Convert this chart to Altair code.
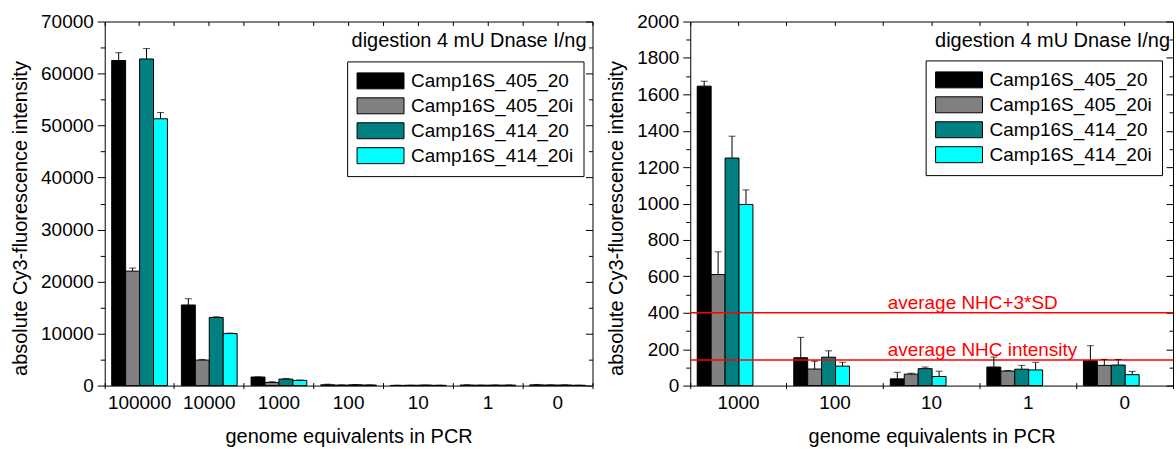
import altair as alt
import pandas as pd

FONT = "Liberation Sans"

# probes and their bar colours
series = ["Camp16S_405_20", "Camp16S_405_20i", "Camp16S_414_20", "Camp16S_414_20i"]
colors = ["#000000", "#808080", "#008080", "#00FFFF"]

# genome equivalents per PCR
doses_all = ["100000", "10000", "1000", "100", "10", "1", "0"]
doses_low = ["1000", "100", "10", "1", "0"]

# mean absolute Cy3 intensity per dose (order of doses_all)
mean_405_20 = [62500, 15500, 1645, 153, 37, 102, 137]
mean_405_20i = [22000, 4900, 610, 91, 63, 80, 111]
mean_414_20 = [62800, 13100, 1250, 156, 93, 90, 113]
mean_414_20i = [51300, 10000, 995, 107, 50, 86, 60]

# standard deviations (upper error bars)
sd_405_20 = [1500, 1200, 27, 112, 36, 55, 82]
sd_405_20i = [600, 130, 125, 43, 5, 3, 33]
sd_414_20 = [2000, 120, 120, 35, 9, 21, 31]
sd_414_20i = [1200, 100, 80, 21, 29, 42, 18]

# negative hybridisation control levels
threshold_values = [400, 140]
threshold_labels = ["average NHC+3*SD", "average NHC intensity"]

note_text = "digestion 4 mU Dnase I/ng"
x_title = "genome equivalents in PCR"
y_title = "absolute Cy3-fluorescence intensity"

means = [mean_405_20, mean_405_20i, mean_414_20, mean_414_20i]
sds = [sd_405_20, sd_405_20i, sd_414_20, sd_414_20i]
rows = []
for s, m, e in zip(series, means, sds):
    for d, v, sd in zip(doses_all, m, e):
        rows.append({"dose": d, "series": s, "value": v, "sd": sd, "upper": v + sd})
df = pd.DataFrame(rows)


def panel(doses, ymax, step, width, height, legend_x, legend_y, note_inset, thresholds):
    data = df[df["dose"].isin(doses)]
    x_scale = alt.Scale(domain=doses, paddingInner=0, paddingOuter=0)
    off_scale = alt.Scale(domain=series, paddingInner=0, paddingOuter=0.5)
    y_scale = alt.Scale(domain=[0, ymax], nice=False, zero=True)
    all_ticks = list(range(0, ymax + 1, step // 2))
    major_ticks = list(range(0, ymax + 1, step))
    minor_ticks = [t for t in all_ticks if t % step != 0]
    xo = alt.XOffset("series:N", scale=off_scale)
    base = alt.Chart(data)

    bars = base.mark_bar(stroke="black", strokeWidth=1).encode(
        x=alt.X(
            "dose:N", scale=x_scale,
            axis=alt.Axis(
                orient="bottom", title=x_title, bandPosition=1, tickExtra=True,
                tickSize=6, offset=-3, labelAngle=0, labelPadding=5,
                labelFontSize=19, titleFontSize=20, titlePadding=14,
                domain=False, grid=False,
            ),
        ),
        xOffset=xo,
        y=alt.Y(
            "value:Q", scale=y_scale,
            axis=alt.Axis(
                orient="left", title=y_title, values=all_ticks,
                tickSize={"condition": {"test": f"datum.value % {step} === 0", "value": 7.5}, "value": 4.5},
                labelExpr=f"datum.value % {step} === 0 ? datum.label : ''",
                format="d", labelPadding=4, labelFontSize=19,
                titleFontSize=20, titlePadding=10, titleY=197,
                domain=False, grid=False,
            ),
        ),
        color=alt.Color(
            "series:N",
            scale=alt.Scale(domain=series, range=colors),
            legend=alt.Legend(
                title=None, orient="none", legendX=legend_x, legendY=legend_y,
                direction="vertical",
                symbolType="M-2.94,-1H2.94V1H-2.94Z", symbolSize=256,
                symbolStrokeColor="black", symbolStrokeWidth=1,
                symbolOffset=14, labelOffset=21, labelFontSize=19,
                labelColor="black", labelLimit=400, rowPadding=4,
                padding=10, strokeColor="black", fillColor="white",
                cornerRadius=0,
            ),
        ),
    )

    err = base.mark_rule(color="black", strokeWidth=1).encode(
        x=alt.X(
            "dose:N", scale=x_scale,
            axis=alt.Axis(
                orient="top", title=None, labels=False, bandPosition=1,
                tickExtra=True, tickSize=4, offset=-4, domain=False, grid=False,
            ),
        ),
        xOffset=xo,
        y=alt.Y(
            "value:Q", scale=y_scale,
            axis=alt.Axis(
                orient="right", title=None, labels=False, values=major_ticks,
                tickSize=7, offset=-7, domain=False, grid=False,
            ),
        ),
        y2="upper:Q",
    )

    caps = base.mark_tick(color="black", size=7, thickness=1).encode(
        x=alt.X(
            "dose:N", scale=x_scale,
            axis=alt.Axis(
                orient="top", title=None, labels=False, tickSize=4,
                offset=-4, domain=False, grid=False,
            ),
        ),
        xOffset=xo,
        y=alt.Y(
            "upper:Q", scale=y_scale,
            axis=alt.Axis(
                orient="right", title=None, labels=False, values=minor_ticks,
                tickSize=4, offset=-4, domain=False, grid=False,
            ),
        ),
    )

    layers = [bars]
    if thresholds:
        thr = pd.DataFrame({"value": threshold_values, "label": threshold_labels})
        lines = alt.Chart(thr).mark_rule(color="#FF0000", strokeWidth=1.5).encode(
            y=alt.Y("value:Q", scale=y_scale, axis=None)
        )
        texts = alt.Chart(thr).mark_text(
            align="left", baseline="alphabetic", dy=-4, fontSize=19, color="#FF0000"
        ).encode(
            x=alt.value(198),
            y=alt.Y("value:Q", scale=y_scale, axis=None),
            text="label:N",
        )
        layers += [lines, err, caps, texts]
    else:
        layers += [err, caps]

    note = alt.Chart(pd.DataFrame({"note": [note_text]})).mark_text(
        align="right", baseline="alphabetic", fontSize=20, color="black"
    ).encode(text="note:N", x=alt.value(width - note_inset), y=alt.value(26))
    layers.append(note)

    return alt.layer(*layers).resolve_axis(x="independent", y="independent").properties(
        width=width, height=height
    )


left = panel(doses_all, 70000, 10000, 489, 365, 243, 40, 6, False)
right = panel(doses_low, 2000, 200, 484, 365, 236, 39, 3, True)

chart = (
    alt.hconcat(left, right, spacing=98, bounds="flush")
    .resolve_scale(color="independent")
    .properties(padding={"left": 10, "top": 11, "right": 1, "bottom": 1})
    .configure(font=FONT)
    .configure_view(stroke="black", strokeWidth=1)
    .configure_axis(
        labelColor="black", tickColor="black", titleColor="black",
        titleFontWeight="normal", tickWidth=1,
    )
)

chart.save("out.html", embed_options={"renderer": "svg", "actions": False})
